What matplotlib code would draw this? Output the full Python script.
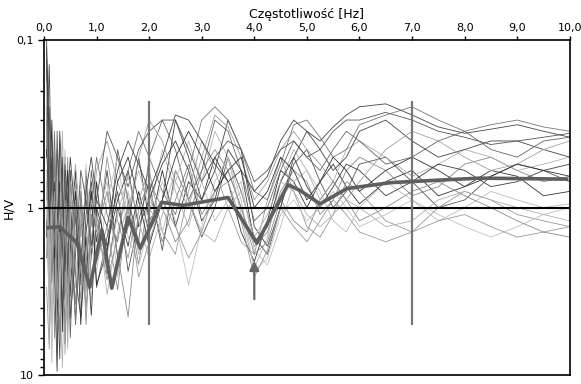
import matplotlib
matplotlib.use("Agg")
import matplotlib.pyplot as plt
import matplotlib.ticker as ticker

# frequency grid [Hz] shared by the single-record curves
freq = [0.05, 0.1, 0.15, 0.2, 0.25, 0.3, 0.35, 0.4, 0.45, 0.5, 0.6, 0.7, 0.8, 0.9, 1.0,
        1.2, 1.4, 1.6, 1.8, 2.0, 2.25, 2.5, 2.75, 3.0, 3.25, 3.5, 3.75, 4.0, 4.25, 4.5,
        4.75, 5.0, 5.25, 5.5, 5.75, 6.0, 6.5, 7.0, 7.5, 8.0, 8.5, 9.0, 9.5, 10.0]

# H/V of individual records (approximate)
hv_records = [
    [0.11, 0.5, 2.8, 0.7, 4.5, 1.5, 0.5, 2.2, 0.9, 3.4, 0.8, 2.6, 0.6, 2.0, 0.7, 2.5, 1.0, 1.7, 0.8, 1.4, 0.6, 1.3, 0.7, 0.9, 0.5, 0.7, 1.4, 2.1, 1.2, 0.6, 0.7, 1.0, 0.7, 0.55, 0.75, 0.95, 0.7, 0.6, 0.85, 0.75, 0.6, 0.65, 0.85, 0.8],
    [0.3, 1.8, 0.6, 6.0, 1.0, 0.4, 3.5, 1.1, 5.5, 1.4, 3.8, 0.9, 3.2, 1.1, 2.1, 1.3, 3.1, 0.9, 2.2, 0.8, 1.6, 0.9, 0.55, 1.1, 0.8, 0.6, 1.0, 1.7, 1.4, 0.8, 0.6, 0.7, 1.1, 0.9, 0.6, 0.5, 0.6, 0.85, 0.75, 0.55, 0.5, 0.6, 0.7, 0.65],
    [0.15, 3.0, 1.2, 0.5, 2.6, 8.0, 1.5, 0.7, 2.8, 0.9, 5.0, 1.2, 2.4, 0.8, 3.0, 1.5, 0.8, 2.4, 1.2, 0.7, 1.8, 0.6, 0.9, 1.5, 1.0, 0.5, 0.8, 1.5, 1.9, 1.0, 0.55, 0.45, 0.7, 1.0, 0.8, 0.55, 0.5, 0.7, 1.0, 0.9, 0.65, 0.55, 0.6, 0.7],
    [0.2, 0.7, 5.0, 1.3, 0.6, 3.0, 9.0, 1.8, 0.8, 4.2, 1.4, 0.7, 4.0, 1.5, 1.0, 3.3, 1.4, 0.8, 1.9, 1.1, 0.45, 0.8, 1.3, 0.7, 0.35, 0.5, 1.1, 2.3, 1.5, 0.7, 0.45, 0.6, 0.9, 0.7, 0.45, 0.4, 0.5, 0.65, 0.55, 0.45, 0.5, 0.6, 0.55, 0.5],
    [0.5, 0.14, 1.0, 3.8, 0.8, 1.6, 0.5, 6.5, 2.0, 0.6, 2.6, 4.5, 1.1, 0.7, 1.6, 0.6, 2.0, 1.3, 0.5, 1.2, 0.9, 0.3, 0.5, 0.9, 0.6, 0.3, 0.45, 1.3, 1.7, 1.0, 0.5, 0.35, 0.45, 0.6, 0.5, 0.35, 0.3, 0.4, 0.5, 0.45, 0.4, 0.4, 0.45, 0.5],
    [1.2, 4.0, 0.4, 1.5, 7.0, 2.0, 0.9, 1.4, 0.5, 2.2, 1.0, 3.5, 0.7, 2.8, 1.8, 0.5, 1.2, 2.0, 0.9, 0.6, 1.4, 1.9, 0.8, 0.4, 0.6, 1.0, 1.6, 1.9, 0.9, 0.5, 0.8, 1.3, 1.5, 1.1, 0.7, 0.8, 1.2, 1.4, 1.0, 0.8, 0.9, 1.1, 1.2, 1.3],
    [0.25, 2.2, 0.9, 2.6, 0.35, 1.1, 4.5, 0.6, 1.7, 6.0, 0.9, 1.8, 2.6, 0.6, 1.1, 2.0, 0.45, 0.9, 1.6, 0.5, 0.3, 0.45, 0.9, 0.6, 0.3, 0.35, 0.6, 1.2, 1.0, 0.6, 0.4, 0.5, 0.6, 0.45, 0.35, 0.4, 0.55, 0.5, 0.4, 0.35, 0.45, 0.5, 0.4, 0.38],
    [0.6, 1.5, 8.5, 0.9, 2.0, 0.6, 2.8, 4.0, 1.3, 0.8, 3.0, 1.0, 1.9, 3.6, 1.2, 0.7, 2.6, 1.0, 0.6, 1.0, 1.4, 0.7, 0.4, 0.7, 1.2, 0.9, 0.7, 1.8, 2.2, 1.3, 0.7, 0.6, 0.8, 1.2, 1.4, 1.0, 0.7, 0.9, 1.2, 1.0, 0.8, 0.9, 1.0, 0.95],
    [0.13, 0.4, 1.4, 2.5, 9.5, 0.9, 1.9, 0.5, 2.4, 1.5, 0.6, 2.9, 1.5, 4.4, 1.0, 1.7, 0.9, 0.6, 1.3, 0.9, 0.55, 0.4, 0.6, 1.2, 0.9, 0.45, 0.6, 1.6, 1.3, 0.7, 0.5, 0.75, 1.0, 0.75, 0.55, 0.6, 0.85, 0.7, 0.55, 0.6, 0.75, 0.7, 0.6, 0.55],
    [0.9, 0.3, 2.0, 1.0, 3.2, 0.5, 1.3, 7.5, 1.0, 2.6, 0.7, 1.5, 0.9, 1.3, 0.6, 0.4, 0.7, 1.1, 0.5, 0.3, 0.4, 0.7, 1.0, 0.5, 0.28, 0.33, 0.5, 0.9, 0.7, 0.45, 0.35, 0.45, 0.55, 0.7, 0.9, 0.7, 0.45, 0.35, 0.4, 0.5, 0.6, 0.55, 0.45, 0.4],
    [2.0, 0.6, 1.1, 0.35, 1.5, 2.4, 0.8, 3.3, 0.6, 1.3, 4.8, 0.8, 2.1, 1.0, 0.5, 1.1, 1.6, 0.6, 0.35, 0.5, 0.8, 1.1, 0.6, 0.3, 0.25, 0.3, 0.45, 0.8, 0.9, 0.55, 0.32, 0.3, 0.38, 0.5, 0.45, 0.32, 0.28, 0.25, 0.3, 0.35, 0.32, 0.3, 0.33, 0.35],
    [0.18, 5.5, 0.8, 1.7, 0.5, 4.0, 1.0, 0.45, 1.6, 0.7, 2.0, 3.2, 0.55, 1.6, 2.4, 0.9, 0.5, 1.5, 2.2, 1.3, 0.7, 1.2, 2.9, 1.3, 0.7, 0.5, 0.9, 2.4, 2.0, 1.1, 0.9, 1.2, 1.0, 0.8, 1.0, 1.3, 1.1, 0.9, 1.1, 1.3, 1.5, 1.3, 1.1, 1.0],
    [0.45, 1.0, 0.3, 2.0, 1.2, 0.7, 5.5, 1.2, 0.6, 1.9, 0.8, 5.0, 1.4, 0.8, 2.9, 1.8, 0.7, 0.5, 0.9, 1.7, 0.9, 0.5, 0.35, 0.5, 0.8, 0.6, 0.5, 1.0, 0.8, 0.5, 0.6, 0.9, 0.7, 0.5, 0.6, 0.8, 0.6, 0.5, 0.6, 0.75, 0.65, 0.55, 0.6, 0.65],
    [0.3, 0.8, 2.3, 0.45, 1.7, 6.0, 0.9, 2.0, 3.9, 0.7, 1.7, 0.9, 5.0, 1.1, 1.4, 0.8, 1.9, 4.5, 1.0, 0.7, 1.0, 1.6, 1.2, 0.6, 0.45, 0.6, 1.0, 1.9, 1.6, 0.9, 1.2, 1.4, 0.9, 0.7, 0.9, 1.2, 1.0, 0.8, 0.7, 0.85, 1.0, 1.2, 1.4, 1.5],
    [1.5, 0.25, 0.9, 1.4, 0.45, 1.0, 2.0, 0.55, 1.0, 4.6, 1.9, 0.6, 0.9, 1.7, 0.9, 0.35, 0.5, 0.75, 0.45, 0.35, 0.3, 0.3, 0.45, 0.7, 0.5, 0.4, 0.45, 0.7, 0.6, 0.45, 0.4, 0.5, 0.45, 0.35, 0.3, 0.3, 0.27, 0.3, 0.35, 0.38, 0.42, 0.4, 0.38, 0.36],
    [0.7, 2.8, 1.3, 4.0, 0.7, 1.3, 0.35, 1.5, 7.0, 1.1, 0.55, 1.3, 2.0, 0.9, 1.3, 2.4, 1.1, 0.65, 1.2, 2.0, 1.1, 0.6, 0.9, 1.4, 1.6, 1.0, 0.8, 1.5, 1.1, 0.7, 0.8, 1.1, 1.3, 1.1, 0.9, 1.0, 1.3, 1.2, 0.9, 0.8, 0.9, 1.0, 1.1, 1.2],
    [0.1, 1.3, 0.5, 1.1, 2.8, 0.35, 0.8, 2.4, 0.9, 0.5, 1.2, 2.1, 0.8, 0.5, 0.9, 1.3, 0.6, 0.4, 0.55, 0.8, 0.5, 0.28, 0.3, 0.4, 0.55, 0.7, 0.6, 0.8, 0.65, 0.4, 0.3, 0.35, 0.4, 0.33, 0.28, 0.25, 0.24, 0.28, 0.33, 0.36, 0.34, 0.32, 0.35, 0.38],
    [3.0, 7.0, 1.6, 0.8, 3.5, 1.4, 2.6, 0.9, 3.3, 2.0, 0.9, 2.4, 3.8, 2.0, 1.2, 2.7, 1.5, 1.0, 2.6, 1.6, 0.9, 1.3, 2.0, 1.4, 0.8, 0.7, 1.2, 2.6, 1.8, 1.0, 1.3, 1.6, 1.2, 0.9, 1.1, 1.4, 1.6, 1.4, 1.2, 1.1, 1.3, 1.5, 1.4, 1.3],
]
record_grays = ["#333333", "#8a8a8a", "#555555", "#b0b0b0", "#444444", "#999999",
                "#666666", "#bbbbbb", "#3c3c3c", "#a0a0a0", "#777777", "#c0c0c0"]

# mean H/V curve
mean_freq = [0.08, 0.3, 0.63, 0.87, 1.1, 1.29, 1.6, 1.83, 2.24, 2.64, 3.5, 4.05, 4.64,
             4.87, 5.25, 5.76, 6.58, 7.53, 8.29, 9.94]
mean_hv = [1.32, 1.30, 1.63, 2.99, 1.36, 3.03, 1.14, 1.75, 0.93, 0.97, 0.87, 1.63, 0.73,
           0.79, 0.95, 0.77, 0.71, 0.685, 0.667, 0.676]

# frequency band limits and peak marker
band_freqs = [2.0, 7.0]
band_hv = (0.23, 5.0)
peak_freq = 4.0
arrow_hv = (3.66, 2.0)

xticks = [0, 1, 2, 3, 4, 5, 6, 7, 8, 9, 10]
xticklabels = ["0,0", "1,0", "2,0", "3,0", "4,0", "5,0", "6,0", "7,0", "8,0", "9,0", "10,0"]
yticks = [0.1, 1, 10]
yticklabels = ["0,1", "1", "10"]

fig = plt.figure(figsize=(5.81, 3.84), dpi=100)
ax = fig.add_axes([0.0757, 0.0234, 0.905, 0.872])

for i, rec in enumerate(hv_records):
    ax.plot(freq, rec, color=record_grays[i % len(record_grays)], lw=0.6, zorder=2)

ax.axhline(1.0, color="black", lw=1.5, zorder=3)
ax.vlines(band_freqs, band_hv[0], band_hv[1], color="#777777", lw=1.6, zorder=3)
ax.plot(mean_freq, mean_hv, color="#5e5e5e", lw=2.6, zorder=4)
ax.annotate("", xy=(peak_freq, arrow_hv[1]), xytext=(peak_freq, arrow_hv[0]),
            arrowprops=dict(arrowstyle="-|>", color="#666666", lw=1.6,
                            mutation_scale=14), zorder=5)

ax.set_yscale("log")
ax.set_xlim(0, 10)
ax.set_ylim(10, 0.1)

ax.xaxis.tick_top()
ax.xaxis.set_label_position("top")
ax.set_xticks(xticks)
ax.set_xticklabels(xticklabels, fontsize=8)
ax.set_xlabel("Częstotliwość [Hz]", fontsize=9, labelpad=4)

ax.yaxis.set_major_locator(ticker.FixedLocator(yticks))
ax.yaxis.set_major_formatter(ticker.FixedFormatter(yticklabels))
ax.yaxis.set_minor_locator(ticker.LogLocator(base=10, subs=range(2, 10)))
ax.yaxis.set_minor_formatter(ticker.NullFormatter())
ax.tick_params(axis="y", labelsize=8, length=4, width=1)
ax.tick_params(axis="y", which="minor", length=3, width=1)
ax.tick_params(axis="x", length=3, width=1, pad=2)
ax.set_ylabel("H/V", fontsize=9)
ax.yaxis.set_label_coords(-0.055, 0.5)

for sp in ax.spines.values():
    sp.set_linewidth(1.2)

fig.savefig("out.png", dpi=100)
